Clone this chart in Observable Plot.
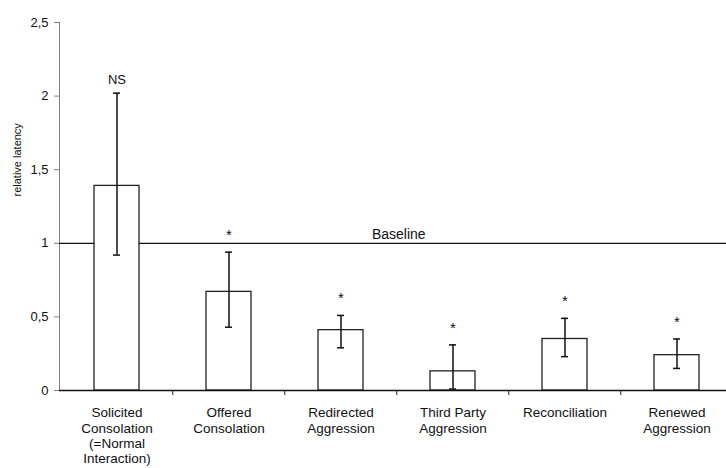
<!DOCTYPE html>
<html><head><meta charset="utf-8">
<script src="https://cdn.jsdelivr.net/npm/d3@7"></script>
<script src="https://cdn.jsdelivr.net/npm/@observablehq/plot@0.6"></script>
<style>html,body{margin:0;padding:0;background:#fff;overflow:hidden} #chart svg{display:block}</style>
</head><body><div id="chart"></div>
<script>
const categories = ["Solicited Consolation", "Offered Consolation", "Redirected Aggression", "Third Party Aggression", "Reconciliation", "Renewed Aggression"];
const tickLabels = ["Solicited\nConsolation\n(=Normal\nInteraction)", "Offered\nConsolation", "Redirected\nAggression", "Third Party\nAggression", "Reconciliation", "Renewed\nAggression"];
const latency = [1.39, 0.67, 0.41, 0.13, 0.35, 0.24];
const errLow = [0.92, 0.43, 0.29, 0.01, 0.23, 0.15];
const errHigh = [2.02, 0.94, 0.51, 0.31, 0.49, 0.35];
const significance = ["NS", "*", "*", "*", "*", "*"];
const yTicks = [0, 0.5, 1, 1.5, 2, 2.5];
const baselineValue = 1;
const baselineLabel = "Baseline";
const yLabel = "relative latency";

const data = categories.map((c, i) => ({cat: c, label: tickLabels[i], v: latency[i], lo: errLow[i], hi: errHigh[i], sig: significance[i]}));

const W = 726, H = 468;
const mL = 59, mT = 22, mB = 78;
const xRange = [mL, 733.5];
const step = (xRange[1] - xRange[0]) / categories.length;
const bw = step * 0.4;
const capW = 7;
const capInset = (bw - capW) / 2;
const font = "'Liberation Sans', Arial, Helvetica, sans-serif";

const chart = Plot.plot({
  width: W, height: H,
  marginLeft: mL, marginRight: 0, marginTop: mT, marginBottom: mB,
  style: {fontFamily: font, fontSize: "13px", color: "#111", background: "#fff"},
  x: {type: "band", domain: categories, range: xRange, paddingInner: 0.6, paddingOuter: 0.3, align: 0.5, axis: null},
  y: {domain: [0, 2.5], axis: null},
  marks: [
    Plot.frame({anchor: "left", stroke: "#808080"}),
    Plot.axisY({ticks: yTicks, tickSize: 5, tickPadding: 6, stroke: "#808080", fill: "#111", fontSize: 13, tickFormat: d => String(d).replace(".", ","), label: null}),
    Plot.ruleY([baselineValue], {stroke: "#111", strokeWidth: 1.3}),
    Plot.barY(data, {x: "cat", y: "v", fill: "#fff", stroke: "#222", strokeWidth: 1.3}),
    Plot.ruleY([0], {stroke: "#111", strokeWidth: 1.3}),
    Plot.ruleX(data.slice(1), {x: "cat", dx: -step / 2, y1: 0, y2: 0, insetBottom: -5, stroke: "#222", strokeWidth: 1}),
    Plot.ruleX(data, {x: "cat", y1: "lo", y2: "hi", stroke: "#111", strokeWidth: 1.5}),
    Plot.tickY(data, {x: "cat", y: "lo", insetLeft: capInset, insetRight: capInset, stroke: "#111", strokeWidth: 1.5}),
    Plot.tickY(data, {x: "cat", y: "hi", insetLeft: capInset, insetRight: capInset, stroke: "#111", strokeWidth: 1.5}),
    Plot.text(data, {filter: d => d.sig === "NS", x: "cat", y: "hi", text: "sig", dy: -13, fontSize: 13, fill: "#111"}),
    Plot.text(data, {filter: d => d.sig !== "NS", x: "cat", y: "hi", text: "sig", dy: -17, fontSize: 15, fill: "#111"}),
    Plot.text([baselineLabel], {x: () => categories[3], y: () => baselineValue, text: d => d, dx: -step / 2 + 2, dy: -4, lineAnchor: "bottom", fontSize: 14, fill: "#111"}),
    Plot.text(data, {x: "cat", y: () => 0, text: "label", dy: 16, lineAnchor: "top", lineHeight: 1.13, fontSize: 13.5, fill: "#111"}),
    Plot.text([yLabel], {frameAnchor: "left", text: d => d, dx: -42, dy: -10, rotate: -90, fontSize: 11, fill: "#111"})
  ]
});
document.getElementById("chart").appendChild(chart);
</script>
</body></html>
